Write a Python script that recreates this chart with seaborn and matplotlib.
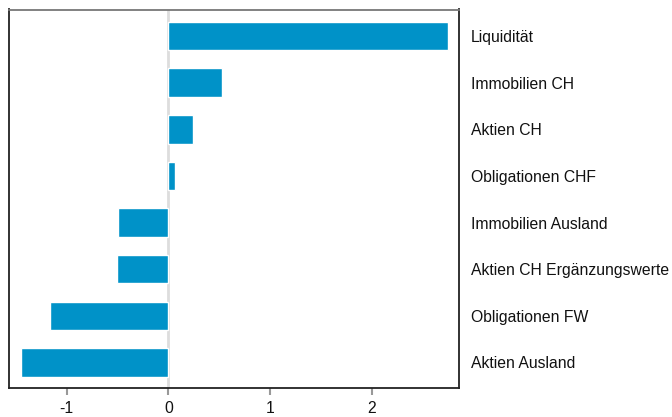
import matplotlib
matplotlib.use("Agg")
import matplotlib.pyplot as plt
import seaborn as sns
import pandas as pd

categories = ["Liquidität", "Immobilien CH", "Aktien CH", "Obligationen CHF",
              "Immobilien Ausland", "Aktien CH Ergänzungswerte", "Obligationen FW",
              "Aktien Ausland"]
values = [2.745, 0.53, 0.245, 0.067, -0.497, -0.506, -1.165, -1.453]
xticks = [-1, 0, 1, 2]

sns.set_theme(style="white")
plt.rcParams['font.family'] = ['Liberation Sans', 'DejaVu Sans']

df = pd.DataFrame({"cat": categories, "val": values})

fig = plt.figure(figsize=(6.72, 4.17), dpi=100)
ax = fig.add_axes([9/672, 1-388/417, 450/672, (388-9.5)/417])

ax.axvline(0, color="#dddddd", lw=2, zorder=0)
sns.barplot(data=df, x="val", y="cat", order=categories, orient="h",
            color="#0092C8", saturation=1, width=0.61, ax=ax, zorder=2)

ax.set_xlim(-1.568, 2.857)
ax.set_ylim(7.55, -0.57)
ax.set_xticks(xticks)
ax.set_xticklabels([str(t) for t in xticks])
ax.set_xlabel("")
ax.set_ylabel("")
ax.yaxis.tick_right()
ax.tick_params(axis="y", length=0, pad=8.5, labelsize=11.3, colors="#111111")
ax.tick_params(axis="x", length=5, width=1.5, color="#999999", pad=4.5,
               labelsize=11.3, labelcolor="#111111", bottom=True)
for s in ["left", "right", "bottom"]:
    ax.spines[s].set_color("#222222")
    ax.spines[s].set_linewidth(1.3)
ax.spines["top"].set_color("#777777")
ax.spines["top"].set_linewidth(1.3)

fig.savefig("out.png", dpi=100)
